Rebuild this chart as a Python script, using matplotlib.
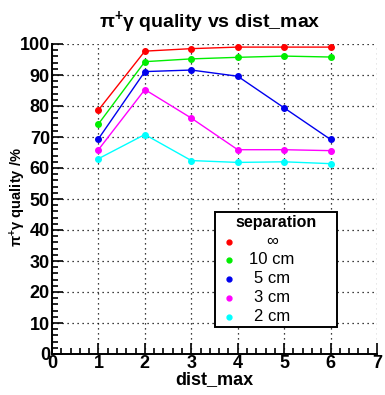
import matplotlib
matplotlib.use("Agg")
import matplotlib.pyplot as plt
from matplotlib.patches import Rectangle
from matplotlib.ticker import MultipleLocator

plt.rcParams['font.family'] = ['Liberation Sans', 'DejaVu Sans']
plt.rcParams['mathtext.fontset'] = 'custom'
plt.rcParams['mathtext.rm'] = 'Liberation Sans:bold'
plt.rcParams['mathtext.default'] = 'regular'

dist_max = [1, 2, 3, 4, 5, 6]
sep_labels = ['\u221e', '10 cm', '5 cm', '3 cm', '2 cm']
sep_colors = ['#ff0000', '#00ee00', '#0000ee', '#ff00ff', '#00ffff']
q_inf = [78.7, 97.7, 98.5, 99.0, 99.0, 99.0]
q_10 = [74.2, 94.3, 95.2, 95.7, 96.1, 95.8]
q_5 = [69.4, 91.1, 91.6, 89.6, 79.4, 69.2]
q_3 = [65.9, 85.3, 76.1, 65.9, 65.9, 65.6]
q_2 = [63.0, 70.8, 62.4, 61.8, 62.0, 61.4]
series = [q_inf, q_10, q_5, q_3, q_2]

W, H = 385, 395
fig = plt.figure(figsize=(W / 100, H / 100), dpi=100)
ax = fig.add_axes([52/W, 1 - 354/H, 325/W, 310/H])


def fx(px):
    return px / W


def fy(py):
    return 1 - py / H


for vals, c in zip(series, sep_colors):
    ax.plot(dist_max, vals, color=c, lw=1.0, marker='o', ms=4, mec=c, mfc=c)

ax.set_xlim(0, 7)
ax.set_ylim(0, 100)
ax.xaxis.set_major_locator(MultipleLocator(1))
ax.xaxis.set_minor_locator(MultipleLocator(0.2))
ax.yaxis.set_major_locator(MultipleLocator(10))
ax.yaxis.set_minor_locator(MultipleLocator(2))
ax.tick_params(which='both', direction='in', width=1.2, colors='black')
ax.tick_params(which='major', length=8, labelsize=13)
ax.tick_params(axis='x', which='major', pad=1)
ax.tick_params(axis='y', which='major', pad=1.5)
ax.tick_params(which='minor', length=4)
for lab in ax.get_xticklabels() + ax.get_yticklabels():
    lab.set_fontweight('bold')
ax.grid(True, which='major', color='black', linestyle=(0, (1, 3)), lw=0.9)
ax.spines['top'].set_visible(False)
ax.spines['right'].set_visible(False)
ax.spines['left'].set_linewidth(1.4)
ax.spines['bottom'].set_linewidth(1.4)

ax.set_xlabel('dist_max', fontsize=13, fontweight='bold', labelpad=-1)
fig.text(fx(18), fy(197), '\u03c0$^{+}$\u03b3 quality /%', fontsize=10.5,
         fontweight='bold', rotation=90, ha='center', va='center')
fig.text(fx(210), fy(22), '\u03c0$^{+}$\u03b3 quality vs dist_max',
         fontsize=14, fontweight='bold', ha='center', va='center')

# legend box
fig.patches.append(Rectangle((fx(215), fy(327)), fx(337) - fx(215), fy(212) - fy(327),
                             transform=fig.transFigure, facecolor='white',
                             edgecolor='black', lw=1.4, zorder=5))
fig.text(fx(276), fy(222), 'separation', fontsize=11.5, fontweight='bold',
         ha='center', va='center', zorder=6)
rows = [241.5, 260, 278.5, 297.5, 316.5]
for lab, c, r in zip(sep_labels, sep_colors, rows):
    fig.add_artist(plt.Line2D([fx(229)], [fy(r)], ls='none', marker='o', ms=3.5,
                              color=c, transform=fig.transFigure, zorder=6))
    fig.text(fx(272), fy(r), lab, fontsize=12, ha='center', va='center', zorder=6)

fig.savefig('out.png', dpi=100, facecolor='white')
